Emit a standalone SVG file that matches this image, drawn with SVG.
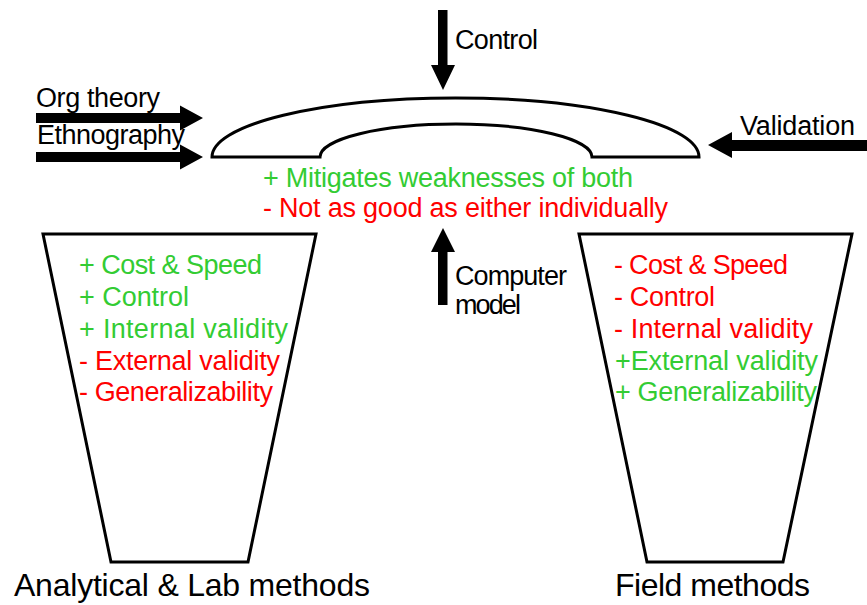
<svg xmlns="http://www.w3.org/2000/svg" width="867" height="605" viewBox="0 0 867 605">
<style>
text{font-family:"Liberation Sans",Arial,sans-serif;font-size:27px;fill:#000}
.g{fill:#33CC33}
.r{fill:#FF0000}
.big{font-size:32px}
.shape{fill:#fff;stroke:#000;stroke-width:3;stroke-linejoin:miter}
.arrow{fill:#000;stroke:none}
</style>
<rect width="867" height="605" fill="#fff"/>
<g id="connectors">
<polygon class="arrow" points="36,113 180,113 180,105.5 203,118 180,130.5 180,123 36,123"/>
<polygon class="arrow" points="36,152 180,152 180,144.5 203,157 180,169.5 180,162 36,162"/>
<polygon class="arrow" points="438,10 447.5,10 447.5,65 455,65 443,90 431,65 438,65"/>
<polygon class="arrow" points="438,305 447.5,305 447.5,252 455,252 443,228 431,252 438,252"/>
<polygon class="arrow" points="867,140 732,140 732,132 708,145 732,158 732,151 867,151"/>
</g>
<g id="input-labels">
<text x="36" y="107" textLength="124">Org theory</text>
<text x="37" y="144" textLength="148">Ethnography</text>
<text x="455" y="49" textLength="83">Control</text>
<text x="740" y="135" textLength="115">Validation</text>
<text x="455" y="285" textLength="112">Computer</text>
<text x="455" y="314" textLength="66">model</text>
</g>
<g id="hybrid">
<path class="shape" d="M212,157 A243.5,59 0 0 1 699,157 L592,157 A136,33 0 0 0 320,157 Z"/>
<text class="g" x="263" y="187" textLength="370">+ Mitigates weaknesses of both</text>
<text class="r" x="263" y="217" textLength="405">- Not as good as either individually</text>
</g>
<g id="lab-methods">
<polygon class="shape" points="43,234 316,234 248,562 111,562"/>
<text class="g" x="79" y="274" textLength="183">+ Cost &amp; Speed</text>
<text class="g" x="79" y="306" textLength="110">+ Control</text>
<text class="g" x="79" y="338" textLength="209">+ Internal validity</text>
<text class="r" x="79" y="370" textLength="201">- External validity</text>
<text class="r" x="79" y="401" textLength="194">- Generalizability</text>
<text class="big" x="14" y="596" textLength="356">Analytical &amp; Lab methods</text>
</g>
<g id="field-methods">
<polygon class="shape" points="579,234 852,234 783,562 647,562"/>
<text class="r" x="614" y="274" textLength="174">- Cost &amp; Speed</text>
<text class="r" x="614" y="306" textLength="101">- Control</text>
<text class="r" x="614" y="338" textLength="199">- Internal validity</text>
<text class="g" x="615" y="370" textLength="203">+External validity</text>
<text class="g" x="615" y="401" textLength="202">+ Generalizability</text>
<text class="big" x="615" y="596" textLength="195">Field methods</text>
</g>
</svg>
